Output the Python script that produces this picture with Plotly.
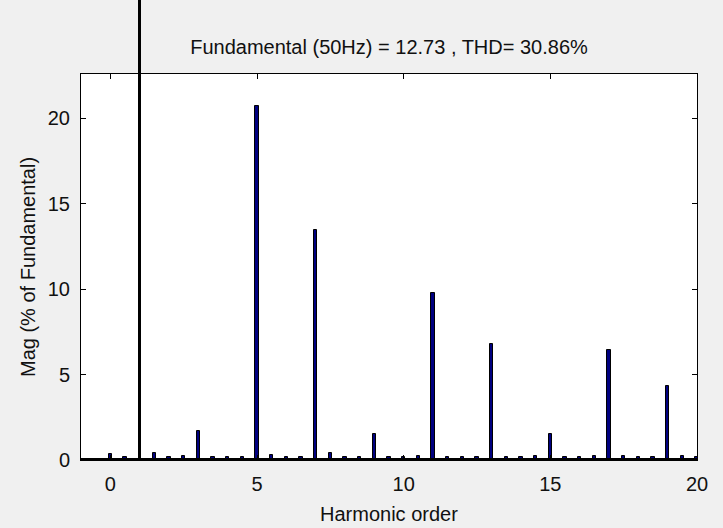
import plotly.graph_objects as go

# ---- data ----
fund_order = [1]
fund_mag = [100.0]

harm_orders = [0, 0.5, 1.5, 2, 2.5, 3, 3.5, 4, 4.5, 5, 5.5, 6, 6.5, 7, 7.5, 8, 8.5, 9, 9.5, 10,
               10.5, 11, 11.5, 12, 12.5, 13, 13.5, 14, 14.5, 15, 15.5, 16, 16.5, 17, 17.5, 18,
               18.5, 19, 19.5, 20]
harm_mag = [0.35, 0.15, 0.4, 0.2, 0.25, 1.72, 0.2, 0.15, 0.15, 20.7, 0.3, 0.15, 0.2, 13.45, 0.4, 0.15,
            0.2, 1.55, 0.2, 0.15, 0.25, 9.75, 0.2, 0.2, 0.15, 6.8, 0.2, 0.2, 0.25, 1.55, 0.2,
            0.2, 0.25, 6.45, 0.25, 0.2, 0.2, 4.35, 0.25, 0.2]

title_text = "Fundamental (50Hz) = 12.73 , THD= 30.86%"
x_label = "Harmonic order"
y_label = "Mag (% of Fundamental)"
x_ticks = [0, 5, 10, 15, 20]
y_ticks = [0, 5, 10, 15, 20]

# ---- layout geometry ----
W, H = 723, 528
ML, MR, MT, MB = 81, 26, 0, 68
plot_h = H - MT - MB
top_px = 74
dom_top = (plot_h - top_px) / plot_h
y_max = 22.6

FONT = "Liberation Sans, Arial, sans-serif"
BAR_FILL = "#000080"

fig = go.Figure()
fig.add_trace(go.Bar(x=harm_orders, y=harm_mag, width=0.12,
                     marker=dict(color=BAR_FILL, line=dict(color="black", width=1)),
                     xaxis="x", yaxis="y", showlegend=False))
fig.add_trace(go.Bar(x=fund_order, y=fund_mag, width=0.06,
                     marker=dict(color="black", line=dict(color="black", width=1)),
                     xaxis="x", yaxis="y2", showlegend=False))

axis_common = dict(showline=True, linecolor="black", linewidth=1, mirror="ticks",
                   ticks="inside", ticklen=5, tickcolor="black", tickwidth=1,
                   showgrid=False, zeroline=False,
                   tickfont=dict(family=FONT, size=20, color="#111111"))

fig.update_layout(
    width=W, height=H,
    margin=dict(l=ML, r=MR, t=MT, b=MB, pad=0),
    paper_bgcolor="#f0f0f0",
    plot_bgcolor="rgba(0,0,0,0)",
    bargap=0,
    xaxis=dict(range=[-1, 20], tickvals=x_ticks, anchor="y", ticklabelstandoff=6, **axis_common),
    yaxis=dict(range=[0, y_max], tickvals=y_ticks, domain=[0, dom_top], anchor="x",
               ticklabelstandoff=6, **axis_common),
    yaxis2=dict(range=[0, y_max / dom_top], domain=[0, 1], anchor="x", visible=False),
    title=dict(text=title_text, x=0.5, xref="paper", xanchor="center",
               y=1 - 47 / H, yref="container", yanchor="middle",
               font=dict(family=FONT, size=20, color="#111111")),
    shapes=[
        dict(type="rect", xref="paper", yref="paper", x0=0, x1=1, y0=0, y1=dom_top,
             fillcolor="white", line=dict(width=0), layer="below"),
        dict(type="line", xref="paper", yref="paper", x0=0, x1=1, y0=0.002, y1=0.002,
             line=dict(color="black", width=2), layer="above"),
    ],
    annotations=[
        dict(text=x_label, xref="paper", yref="paper", x=0.5, y=(plot_h - 514) / plot_h,
             xanchor="center", yanchor="middle", showarrow=False,
             font=dict(family=FONT, size=20, color="#111111")),
        dict(text=y_label, xref="paper", yref="paper", x=(28 - ML) / (W - ML - MR),
             y=(plot_h - 267) / plot_h, xanchor="center", yanchor="middle",
             textangle=-90, showarrow=False,
             font=dict(family=FONT, size=20, color="#111111")),
    ],
)

fig.write_html("out.html")
